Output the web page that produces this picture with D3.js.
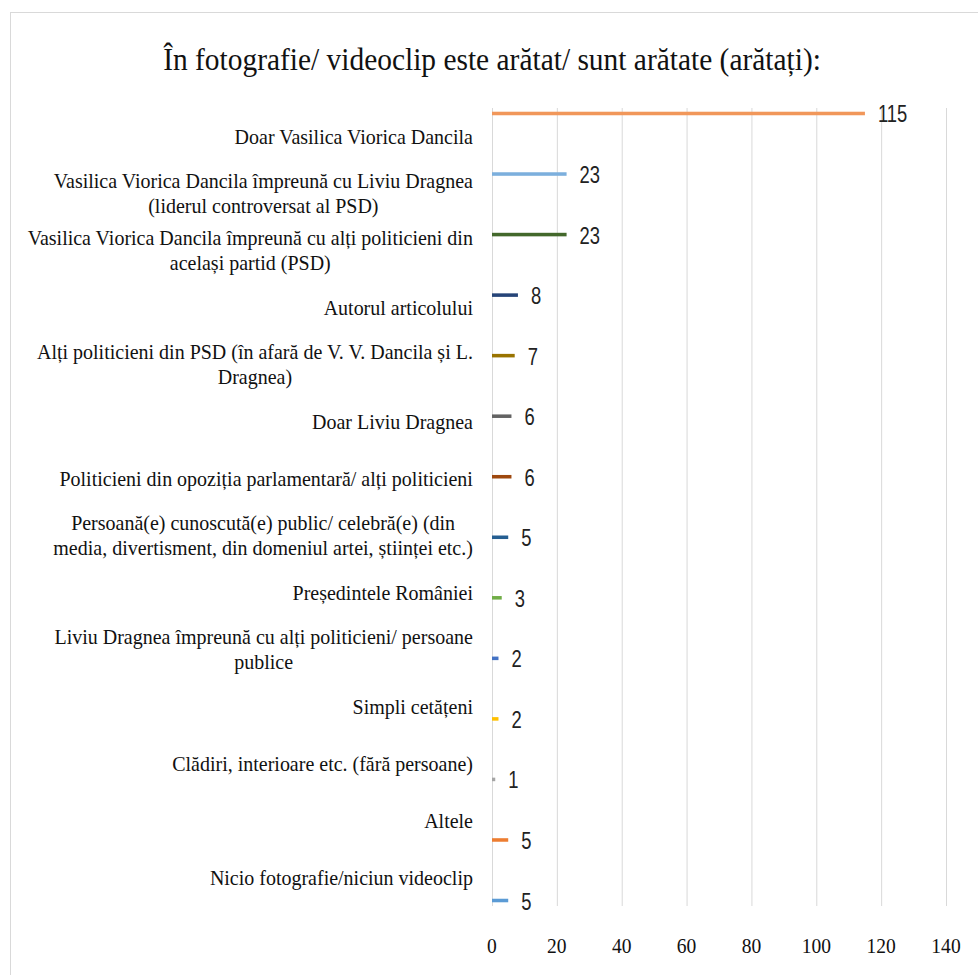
<!DOCTYPE html>
<html>
<head>
<meta charset="utf-8">
<script src="https://cdn.jsdelivr.net/npm/d3@7"></script>
<style>
	body { margin: 0; background: #fff; }
	svg { display: block; }
</style>
</head>
<body>
<div id="chart"></div>
<script>
// categories, top to bottom (line breaks as wrapped in the original)
const categories = [
	"Doar Vasilica Viorica Dancila",
	"Vasilica Viorica Dancila împreună cu  Liviu Dragnea\n(liderul controversat al PSD)",
	"Vasilica Viorica Dancila împreună cu alți politicieni din\nacelași partid (PSD)",
	"Autorul articolului",
	"Alți politicieni din PSD (în afară de V. V. Dancila și L.\nDragnea)",
	"Doar Liviu Dragnea",
	"Politicieni din opoziția parlamentară/ alți politicieni",
	"Persoană(e) cunoscută(e) public/ celebră(e) (din\nmedia, divertisment, din domeniul artei, științei etc.)",
	"Președintele României",
	"Liviu Dragnea împreună cu alți politicieni/ persoane\npublice",
	"Simpli cetățeni",
	"Clădiri, interioare etc. (fără persoane)",
	"Altele",
	"Nicio fotografie/niciun videoclip",
];
const values = [115, 23, 23, 8, 7, 6, 6, 5, 3, 2, 2, 1, 5, 5];
const colors = [
	"#F1975A", "#7CAFDD", "#43682B", "#264478", "#997300", "#636363", "#9E480E",
	"#255E91", "#70AD47", "#4472C4", "#FFC000", "#A5A5A5", "#ED7D31", "#5B9BD5",
];
const xTicks = [0, 20, 40, 60, 80, 100, 120, 140];
const title = "În fotografie/ videoclip este arătat/ sunt arătate (arătați):";

const size = { w: 978, h: 975 };
const plot = { l: 492, r: 946, t: 108, b: 906 };

const svg = d3
	.select("#chart")
	.append("svg")
	.attr("width", size.w)
	.attr("height", size.h);

// chart frame
svg.append("rect")
	.attr("x", 10.5)
	.attr("y", 12.5)
	.attr("width", 1000)
	.attr("height", 1000)
	.attr("fill", "#fff")
	.attr("stroke", "#d9d9d9");

const x = d3.scaleLinear().domain([0, 140]).range([plot.l, plot.r]);
const y = d3.scaleBand().domain(d3.range(categories.length)).range([plot.t, plot.b]);
// every category is its own series, so each bar sits in its own slot of the cluster
const slot = d3
	.scaleBand()
	.domain(d3.range(categories.length))
	.range([0, y.bandwidth()])
	.paddingOuter(1.05);

// squeezed text, like the original
function place(sel, px, py, sx) {
	return sel.attr("transform", `translate(${px},${py}) scale(${sx},1)`);
}

// title
place(
	svg.append("text")
		.attr("text-anchor", "middle")
		.attr("font-family", "Liberation Serif")
		.attr("font-size", 32)
		.attr("fill", "#111")
		.text(title),
	492, 70, 0.92
);

// gridlines
svg.append("g")
	.selectAll("line")
	.data(xTicks)
	.join("line")
	.attr("x1", (d) => x(d) + 0.5)
	.attr("x2", (d) => x(d) + 0.5)
	.attr("y1", plot.t)
	.attr("y2", plot.b)
	.attr("stroke", "#d9d9d9")
	.attr("stroke-width", 1);

// x tick labels
svg.append("g")
	.selectAll("text")
	.data(xTicks)
	.join("text")
	.attr("text-anchor", "middle")
	.attr("font-family", "Liberation Serif")
	.attr("font-size", 21)
	.attr("fill", "#111")
	.attr("transform", (d) => `translate(${x(d)},953) scale(0.93,1)`)
	.text((d) => d);

// bars
svg.append("g")
	.selectAll("rect")
	.data(values)
	.join("rect")
	.attr("x", x(0))
	.attr("y", (d, i) => y(i) + slot(i))
	.attr("width", (d) => x(d) - x(0))
	.attr("height", slot.bandwidth())
	.attr("fill", (d, i) => colors[i]);

// value labels
svg.append("g")
	.selectAll("text")
	.data(values)
	.join("text")
	.attr("font-family", "Liberation Sans")
	.attr("font-size", 23)
	.attr("fill", "#222")
	.attr(
		"transform",
		(d, i) =>
			`translate(${x(d) + 13},${y(i) + slot(i) + slot.bandwidth() / 2 + 9}) scale(0.8,1)`
	)
	.text((d) => d);

// category labels: block right aligned, lines centred inside it
const labelRight = 473;
const lineH = 25;
const sxLabel = 0.93;
const labelG = svg.append("g");
categories.forEach((c, i) => {
	const lines = c.split("\n");
	const cy = y(i) + y.bandwidth() / 2;
	const texts = lines.map((line) =>
		labelG
			.append("text")
			.attr("text-anchor", "middle")
			.attr("font-family", "Liberation Serif")
			.attr("font-size", 21.5)
			.attr("fill", "#111")
			.text(line)
	);
	const maxW = d3.max(texts, (t) => t.node().getComputedTextLength()) * sxLabel;
	const mid = labelRight - maxW / 2;
	texts.forEach((t, k) => {
		const ly = cy + (k - (lines.length - 1) / 2) * lineH + 7;
		place(t, mid, ly, sxLabel);
	});
});
</script>
</body>
</html>
